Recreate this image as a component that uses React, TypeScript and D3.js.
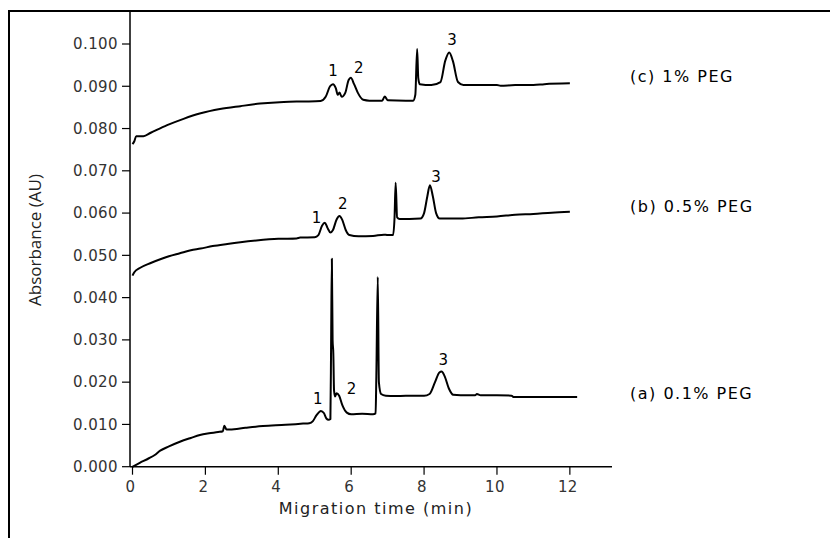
import React from "react";
import * as d3 from "d3";

// Migration time (min), absorbance (AU)
const traceA: [number, number][] = [
  [0, 0.0], [0.2, 0.0009], [0.45, 0.002], [0.6, 0.0027], [0.76, 0.0038], [1.0, 0.0048], [1.3, 0.0059],
  [1.6, 0.0068], [1.85, 0.0075], [2.1, 0.0079], [2.35, 0.0082], [2.48, 0.0084], [2.52, 0.0097], [2.58, 0.0088],
  [2.67, 0.0088], [3.1, 0.0092], [3.58, 0.0096], [4.2, 0.0099], [4.68, 0.0102], [4.85, 0.0103], [4.95, 0.0108],
  [5.05, 0.0122], [5.17, 0.0132], [5.25, 0.0127], [5.32, 0.0114], [5.38, 0.0111], [5.43, 0.0113],
  [5.45, 0.03], [5.47, 0.0492], [5.49, 0.03], [5.51, 0.0268], [5.53, 0.018], [5.56, 0.0166], [5.6, 0.0174],
  [5.67, 0.0168], [5.76, 0.0145], [5.88, 0.0128], [6.0, 0.0124], [6.3, 0.0125], [6.6, 0.0124], [6.67, 0.0126],
  [6.69, 0.0213], [6.73, 0.0449], [6.76, 0.02], [6.82, 0.0172], [6.95, 0.0168], [7.2, 0.0167], [7.5, 0.0168],
  [8.0, 0.0168], [8.15, 0.0172], [8.3, 0.02], [8.42, 0.0223], [8.48, 0.0225], [8.56, 0.0215], [8.68, 0.0185],
  [8.8, 0.017], [9.0, 0.0169], [9.4, 0.0169], [9.45, 0.0172], [9.55, 0.0169], [10.0, 0.0169], [10.4, 0.0168],
  [10.45, 0.0165], [11.0, 0.0165], [12.2, 0.0165],
];
const traceB: [number, number][] = [
  [0, 0.0452], [0.05, 0.046], [0.2, 0.047], [0.5, 0.0482], [0.8, 0.0492], [1.0, 0.0498], [1.3, 0.0505],
  [1.6, 0.0512], [1.87, 0.0516], [2.2, 0.0522], [2.6, 0.0527], [2.96, 0.0531], [3.4, 0.0535], [4.0, 0.0539],
  [4.5, 0.054], [4.6, 0.0542], [5.0, 0.0543], [5.1, 0.0548], [5.2, 0.057], [5.28, 0.0577], [5.35, 0.0565],
  [5.43, 0.0554], [5.5, 0.056], [5.6, 0.0585], [5.68, 0.0593], [5.75, 0.0585], [5.85, 0.056], [5.95, 0.0548],
  [6.2, 0.0545], [6.6, 0.0546], [6.9, 0.0549], [7.0, 0.0548], [7.15, 0.0548], [7.19, 0.059], [7.22, 0.0672],
  [7.26, 0.059], [7.33, 0.0586], [7.6, 0.0586], [7.9, 0.0587], [8.0, 0.06], [8.09, 0.064], [8.16, 0.0666],
  [8.24, 0.064], [8.33, 0.06], [8.43, 0.0587], [9.0, 0.0587], [9.5, 0.059], [10.0, 0.0592], [10.5, 0.0596],
  [11.0, 0.0598], [11.5, 0.0601], [12.0, 0.0603],
];
const traceC: [number, number][] = [
  [0, 0.0763], [0.05, 0.077], [0.1, 0.0782], [0.3, 0.0782], [0.5, 0.079], [0.95, 0.0808], [1.4, 0.0823],
  [1.87, 0.0836], [2.4, 0.0846], [2.96, 0.0853], [3.5, 0.0859], [4.15, 0.0863], [4.7, 0.0864], [5.16, 0.0865],
  [5.3, 0.0875], [5.42, 0.09], [5.5, 0.0905], [5.58, 0.0895], [5.63, 0.088], [5.68, 0.0885], [5.74, 0.0875],
  [5.84, 0.0885], [5.93, 0.0915], [5.99, 0.092], [6.08, 0.0905], [6.18, 0.0885], [6.33, 0.0868], [6.5, 0.0866],
  [6.85, 0.0866], [6.92, 0.0876], [7.0, 0.0867], [7.5, 0.0866], [7.7, 0.0866], [7.76, 0.088], [7.81, 0.0988],
  [7.84, 0.092], [7.88, 0.0905], [8.2, 0.0903], [8.45, 0.091], [8.58, 0.096], [8.69, 0.098], [8.79, 0.096],
  [8.93, 0.091], [9.08, 0.0903], [10.0, 0.0903], [10.1, 0.0901], [10.5, 0.0903], [11.0, 0.0903], [11.3, 0.0905],
  [12.0, 0.0907],
];

const xTicks = [0, 2, 4, 6, 8, 10, 12];
const yTicks = [0, 0.01, 0.02, 0.03, 0.04, 0.05, 0.06, 0.07, 0.08, 0.09, 0.1];

const peakLabels = [
  { text: "1", t: 5.5, v: 0.0936 }, { text: "2", t: 6.21, v: 0.0944 }, { text: "3", t: 8.77, v: 0.1009 },
  { text: "1", t: 5.05, v: 0.0588 }, { text: "2", t: 5.77, v: 0.0621 }, { text: "3", t: 8.33, v: 0.0686 },
  { text: "1", t: 5.08, v: 0.016 }, { text: "2", t: 6.01, v: 0.0184 }, { text: "3", t: 8.53, v: 0.0252 },
];
const seriesNames = ["(c) 1% PEG", "(b) 0.5% PEG", "(a) 0.1% PEG"];
const seriesNameV = [0.0923, 0.0615, 0.0174];

export default function App() {
  const W = 830, H = 538;
  const x = d3.scaleLinear().domain([0, 13.2]).range([132.5, 613.6]);
  const y = d3.scaleLinear().domain([0, 0.1]).range([466.7, 44]);
  const line = d3
    .line<[number, number]>()
    .x((d) => x(d[0]))
    .y((d) => y(d[1]))
    .curve(d3.curveMonotoneX);
  const font = "DejaVu Sans, Verdana, sans-serif";
  const axisColor = "#333";
  return (
    <svg width={W} height={H} style={{ position: "absolute", left: 0, top: 0, background: "#fff" }}>
      <rect x={0} y={0} width={W} height={H} fill="#fff" />
      <rect x={9} y={11} width={900} height={700} fill="none" stroke="#000" strokeWidth={2} />
      {/* axes */}
      <line x1={130} x2={130} y1={11} y2={y(0)} stroke="#000" strokeWidth={1.5} />
      <line x1={130} x2={612} y1={y(0)} y2={y(0)} stroke="#000" strokeWidth={1.5} />
      {yTicks.map((t) => (
        <g key={"y" + t}>
          <line x1={122} x2={130} y1={y(t)} y2={y(t)} stroke="#000" strokeWidth={1.2} />
          <text x={118} y={y(t)} dy="0.35em" textAnchor="end" fontFamily={font} fontSize={15} letterSpacing={0.4} fill={axisColor}>
            {d3.format(".3f")(t)}
          </text>
        </g>
      ))}
      {xTicks.map((t) => (
        <g key={"x" + t}>
          <line x1={x(t)} x2={x(t)} y1={y(0)} y2={y(0) + 8} stroke="#000" strokeWidth={1.2} />
          <text x={x(t) - 2} y={492} textAnchor="middle" fontFamily={font} fontSize={15} letterSpacing={0.4} fill={axisColor}>
            {t}
          </text>
        </g>
      ))}
      <text x={376} y={514} textAnchor="middle" fontFamily={font} fontSize={16} letterSpacing={1.5} fill="#222">
        Migration time (min)
      </text>
      <text transform="translate(41,240) rotate(-90)" textAnchor="middle" fontFamily="Open Sans, Noto Sans, sans-serif" fontSize={17} fill="#222">
        Absorbance (AU)
      </text>
      {[traceA, traceB, traceC].map((tr, i) => (
        <path key={i} d={line(tr) || ""} fill="none" stroke="#000" strokeWidth={2} strokeLinejoin="round" />
      ))}
      {peakLabels.map((p, i) => (
        <text key={"p" + i} x={x(p.t)} y={y(p.v)} dy="0.35em" textAnchor="middle" fontFamily={font} fontSize={15} fill="#000">
          {p.text}
        </text>
      ))}
      {seriesNames.map((s, i) => (
        <text key={s} x={630} y={y(seriesNameV[i])} dy="0.35em" fontFamily={font} fontSize={16} letterSpacing={1.5} fill="#000">
          {s}
        </text>
      ))}
    </svg>
  );
}
